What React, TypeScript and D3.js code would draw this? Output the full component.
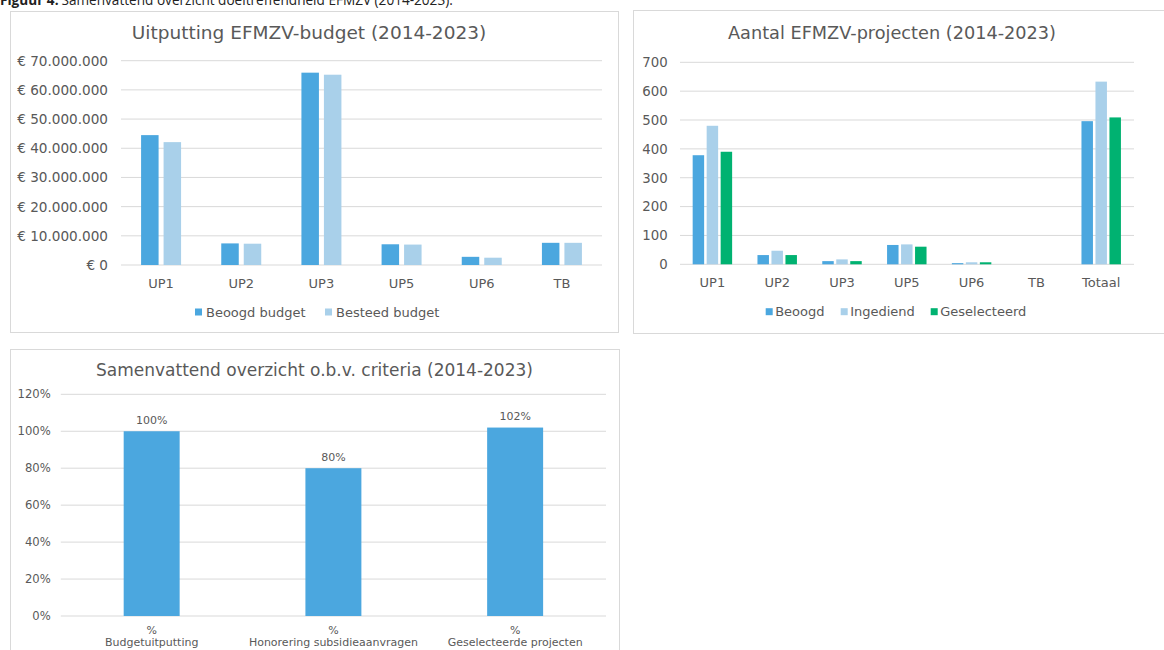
import React, { useEffect, useRef } from "react";
import * as d3 from "d3";

// ---- data ----
const budgetCategories = ["UP1", "UP2", "UP3", "UP5", "UP6", "TB"];
const budgetSeries = ["Beoogd budget", "Besteed budget"];
const beoogdBudget = [44500000, 7400000, 65900000, 7100000, 2800000, 7600000];
const besteedBudget = [42100000, 7300000, 65200000, 7000000, 2500000, 7600000];
const budgetTicks = [0, 10000000, 20000000, 30000000, 40000000, 50000000, 60000000, 70000000];

const projectCategories = ["UP1", "UP2", "UP3", "UP5", "UP6", "TB", "Totaal"];
const projectSeries = ["Beoogd", "Ingediend", "Geselecteerd"];
const beoogdProjects = [378, 32, 11, 67, 4, 0, 496];
const ingediendProjects = [480, 47, 17, 69, 7, 0, 633];
const geselecteerdProjects = [390, 32, 11, 61, 7, 0, 509];
const projectTicks = [0, 100, 200, 300, 400, 500, 600, 700];

const criteriaLabels = ["Budgetuitputting", "Honorering subsidieaanvragen", "Geselecteerde projecten"];
const criteriaValues = [1.0, 0.8, 1.02];
const criteriaTicks = [0, 0.2, 0.4, 0.6, 0.8, 1.0, 1.2];

// ---- style ----
const DARK = "#4BA7DF";
const LIGHT = "#A9D0EA";
const GREEN = "#00B271";
const GRID = "#D9D9D9";
const TEXT = "#595959";
const FONT = "'DejaVu Sans', Verdana, sans-serif";

const euro = (v: number) => "€ " + d3.format(",.0f")(v).replace(/,/g, ".");

export default function App() {
  const ref = useRef<SVGSVGElement>(null);

  useEffect(() => {
    const svg = d3.select(ref.current);
    svg.selectAll("*").remove();

    // caption, cut off at the top of the page
    const cap = svg.append("text").attr("x", 0).attr("y", 4.5)
      .attr("font-family", "'Open Sans', sans-serif").attr("font-size", 13.6).attr("fill", "#222");
    cap.append("tspan").attr("font-weight", "bold").text("Figuur 4.");
    cap.append("tspan").attr("dx", 3)
      .text("Samenvattend overzicht doeltreffendheid EFMZV (2014-2023).");

    // ---------- panel 1 ----------
    {
      const g = svg.append("g");
      g.append("rect").attr("x", 10.5).attr("y", 11.5).attr("width", 608).attr("height", 321)
        .attr("fill", "#fff").attr("stroke", GRID);
      g.append("text").attr("x", 309).attr("y", 39).attr("text-anchor", "middle")
        .attr("font-family", FONT).attr("font-size", 18.5).attr("fill", TEXT)
        .text("Uitputting EFMZV-budget (2014-2023)");

      const x = d3.scaleBand().domain(budgetCategories).range([121, 602]);
      const xs = d3.scaleBand().domain(budgetSeries).range([0, x.bandwidth()])
        .paddingInner(0.222).paddingOuter(0.893);
      const y = d3.scaleLinear().domain([0, 70000000]).range([265, 60.7]);

      g.append("g").selectAll("line").data(budgetTicks).join("line")
        .attr("x1", 121).attr("x2", 602).attr("y1", (d) => y(d)).attr("y2", (d) => y(d))
        .attr("stroke", GRID).attr("stroke-width", 1);
      g.append("g").selectAll("text").data(budgetTicks).join("text")
        .attr("x", 108).attr("y", (d) => y(d)).attr("dy", "0.36em").attr("text-anchor", "end")
        .attr("font-family", FONT).attr("font-size", 13.6).attr("fill", TEXT).text((d) => euro(d));

      const values = [beoogdBudget, besteedBudget];
      const colors = [DARK, LIGHT];
      budgetSeries.forEach((s, si) => {
        g.append("g").selectAll("rect").data(budgetCategories).join("rect")
          .attr("x", (c) => (x(c) as number) + (xs(s) as number))
          .attr("width", xs.bandwidth())
          .attr("y", (c, i) => y(values[si][i]))
          .attr("height", (c, i) => y(0) - y(values[si][i]))
          .attr("fill", colors[si]);
      });

      g.append("g").selectAll("text").data(budgetCategories).join("text")
        .attr("x", (c) => (x(c) as number) + x.bandwidth() / 2).attr("y", 283).attr("dy", "0.36em")
        .attr("text-anchor", "middle").attr("font-family", FONT).attr("font-size", 13).attr("fill", TEXT)
        .text((c) => c);

      const legX = [195, 325];
      budgetSeries.forEach((s, si) => {
        g.append("rect").attr("x", legX[si]).attr("y", 308.5).attr("width", 7).attr("height", 7).attr("fill", colors[si]);
        g.append("text").attr("x", legX[si] + 11).attr("y", 312).attr("dy", "0.36em")
          .attr("font-family", FONT).attr("font-size", 13).attr("fill", TEXT).text(s);
      });
    }

    // ---------- panel 2 ----------
    {
      const g = svg.append("g");
      g.append("rect").attr("x", 633.5).attr("y", 10.5).attr("width", 600).attr("height", 323)
        .attr("fill", "#fff").attr("stroke", GRID);
      g.append("text").attr("x", 892).attr("y", 39).attr("text-anchor", "middle")
        .attr("font-family", FONT).attr("font-size", 17.7).attr("fill", TEXT)
        .text("Aantal EFMZV-projecten (2014-2023)");

      const x = d3.scaleBand().domain(projectCategories).range([680, 1133.6]);
      const xs = d3.scaleBand().domain(projectSeries).range([0, x.bandwidth()])
        .paddingInner(0.18).paddingOuter(0.905);
      const y = d3.scaleLinear().domain([0, 700]).range([264.3, 62.3]);

      g.append("g").selectAll("line").data(projectTicks).join("line")
        .attr("x1", 680).attr("x2", 1134).attr("y1", (d) => y(d)).attr("y2", (d) => y(d))
        .attr("stroke", GRID).attr("stroke-width", 1);
      g.append("g").selectAll("text").data(projectTicks).join("text")
        .attr("x", 667.7).attr("y", (d) => y(d)).attr("dy", "0.36em").attr("text-anchor", "end")
        .attr("font-family", FONT).attr("font-size", 13.3).attr("fill", TEXT).text((d) => d);

      const values = [beoogdProjects, ingediendProjects, geselecteerdProjects];
      const colors = [DARK, LIGHT, GREEN];
      projectSeries.forEach((s, si) => {
        g.append("g").selectAll("rect").data(projectCategories).join("rect")
          .attr("x", (c) => (x(c) as number) + (xs(s) as number))
          .attr("width", xs.bandwidth())
          .attr("y", (c, i) => y(values[si][i]))
          .attr("height", (c, i) => y(0) - y(values[si][i]))
          .attr("fill", colors[si]);
      });

      g.append("g").selectAll("text").data(projectCategories).join("text")
        .attr("x", (c) => (x(c) as number) + x.bandwidth() / 2).attr("y", 282.7).attr("dy", "0.36em")
        .attr("text-anchor", "middle").attr("font-family", FONT).attr("font-size", 13).attr("fill", TEXT)
        .text((c) => c);

      const legX = [765.7, 840.7, 930.7];
      projectSeries.forEach((s, si) => {
        g.append("rect").attr("x", legX[si]).attr("y", 308.2).attr("width", 7).attr("height", 7).attr("fill", colors[si]);
        g.append("text").attr("x", legX[si] + 9.5).attr("y", 311.7).attr("dy", "0.36em")
          .attr("font-family", FONT).attr("font-size", 13).attr("fill", TEXT).text(s);
      });
    }

    // ---------- panel 3 ----------
    {
      const g = svg.append("g");
      g.append("rect").attr("x", 10.5).attr("y", 349.5).attr("width", 609).attr("height", 320)
        .attr("fill", "#fff").attr("stroke", GRID);
      g.append("text").attr("x", 314.5).attr("y", 375.5).attr("text-anchor", "middle")
        .attr("font-family", FONT).attr("font-size", 17).attr("fill", TEXT)
        .text("Samenvattend overzicht o.b.v. criteria (2014-2023)");

      const x = d3.scaleBand().domain(criteriaLabels).range([60.8, 606])
        .paddingInner(0.692).paddingOuter(0.346);
      const y = d3.scaleLinear().domain([0, 1.2]).range([616, 394.3]);

      g.append("g").selectAll("line").data(criteriaTicks).join("line")
        .attr("x1", 60.8).attr("x2", 606).attr("y1", (d) => y(d)).attr("y2", (d) => y(d))
        .attr("stroke", GRID).attr("stroke-width", 1);
      g.append("g").selectAll("text").data(criteriaTicks).join("text")
        .attr("x", 50.7).attr("y", (d) => y(d)).attr("dy", "0.36em").attr("text-anchor", "end")
        .attr("font-family", FONT).attr("font-size", 11.6).attr("fill", TEXT).text((d) => d3.format(".0%")(d));

      g.append("g").selectAll("rect").data(criteriaLabels).join("rect")
        .attr("x", (c) => x(c) as number).attr("width", x.bandwidth())
        .attr("y", (c, i) => y(criteriaValues[i]))
        .attr("height", (c, i) => y(0) - y(criteriaValues[i]))
        .attr("fill", DARK);

      g.append("g").selectAll("text").data(criteriaLabels).join("text")
        .attr("x", (c) => (x(c) as number) + x.bandwidth() / 2)
        .attr("y", (c, i) => y(criteriaValues[i]) - 11.3).attr("dy", "0.36em")
        .attr("text-anchor", "middle").attr("font-family", FONT).attr("font-size", 11).attr("fill", TEXT)
        .text((c, i) => d3.format(".0%")(criteriaValues[i]));

      const lab = g.append("g").selectAll("text").data(criteriaLabels).join("text")
        .attr("text-anchor", "middle").attr("font-family", FONT).attr("font-size", 11).attr("fill", TEXT);
      lab.append("tspan").attr("x", (c) => (x(c) as number) + x.bandwidth() / 2).attr("y", 630).attr("dy", "0.36em").text("%");
      lab.append("tspan").attr("x", (c) => (x(c) as number) + x.bandwidth() / 2).attr("y", 641.7).attr("dy", "0.36em").text((c) => c);
    }
  }, []);

  return (
    <svg ref={ref} width={1164} height={650}
      style={{ position: "absolute", left: 0, top: 0, background: "#fff" }} />
  );
}
